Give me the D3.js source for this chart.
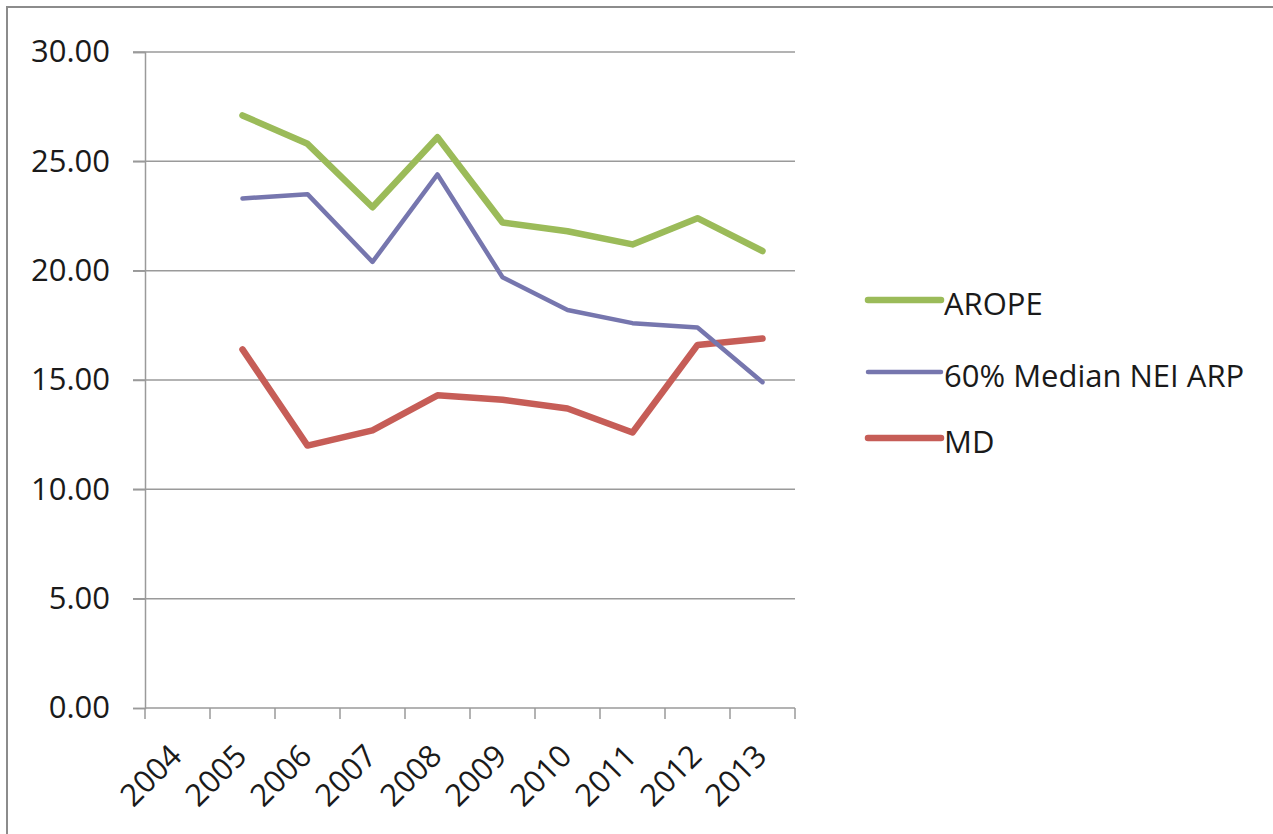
<!DOCTYPE html>
<html>
<head>
<meta charset="utf-8">
<script src="https://cdn.jsdelivr.net/npm/d3@7"></script>
<style>
  html, body { margin: 0; padding: 0; background: #fff; }
  svg { display: block; }
  text { font-family: "Open Sans", sans-serif; fill: #1a1a1a; }
</style>
</head>
<body>
<div id="chart"></div>
<script>
// Years on the category axis (2004 has no observations)
const years = ["2004", "2005", "2006", "2007", "2008", "2009", "2010", "2011", "2012", "2013"];
const dataYears = ["2005", "2006", "2007", "2008", "2009", "2010", "2011", "2012", "2013"];

// Indicator values, one per data year
const arope = [27.1, 25.8, 22.9, 26.1, 22.2, 21.8, 21.2, 22.4, 20.9];
const medianArp = [23.3, 23.5, 20.4, 24.4, 19.7, 18.2, 17.6, 17.4, 14.9];
const md = [16.4, 12.0, 12.7, 14.3, 14.1, 13.7, 12.6, 16.6, 16.9];

const seriesNames = ["AROPE", "60% Median NEI ARP", "MD"];
const yTicks = [0, 5, 10, 15, 20, 25, 30];

const W = 1273, H = 834;
const plotLeft = 145, plotRight = 795, plotTop = 52, plotBottom = 708;
const fontSize = "31px";

const svg = d3.select("#chart").append("svg")
  .attr("width", W).attr("height", H);

// outer frame
svg.append("rect")
  .attr("x", 7).attr("y", 7)
  .attr("width", W + 20).attr("height", H + 20)
  .attr("fill", "none").attr("stroke", "#8c8c8c").attr("stroke-width", 2);

const x = d3.scaleBand().domain(years).range([plotLeft, plotRight]);
const y = d3.scaleLinear().domain([0, 30]).range([plotBottom, plotTop]);

// horizontal gridlines
svg.append("g")
  .selectAll("line")
  .data(yTicks.filter(d => d > 0))
  .join("line")
  .attr("x1", plotLeft - 12).attr("x2", plotRight)
  .attr("y1", d => y(d)).attr("y2", d => y(d))
  .attr("stroke", "#9a9a9a").attr("stroke-width", 1.5);

// y axis
const yAxis = d3.axisLeft(y).tickValues(yTicks).tickSize(12).tickPadding(23)
  .tickFormat(d3.format(".2f"));
const gy = svg.append("g").attr("transform", `translate(${plotLeft},0)`).call(yAxis);
gy.select(".domain").attr("stroke", "#9a9a9a").attr("stroke-width", 1.5);
gy.selectAll(".tick line").attr("stroke", "#9a9a9a").attr("stroke-width", 1.5);
gy.selectAll(".tick text")
  .style("font-family", '"Open Sans", sans-serif')
  .style("font-size", fontSize).attr("fill", "#1a1a1a");

// x axis: ticks at band boundaries
const bounds = years.map(d => x(d)).concat([plotRight]);
svg.append("line")
  .attr("x1", plotLeft).attr("x2", plotRight)
  .attr("y1", plotBottom).attr("y2", plotBottom)
  .attr("stroke", "#9a9a9a").attr("stroke-width", 1.5);
svg.append("g").selectAll("line")
  .data(bounds)
  .join("line")
  .attr("x1", d => d).attr("x2", d => d)
  .attr("y1", plotBottom).attr("y2", plotBottom + 11)
  .attr("stroke", "#9a9a9a").attr("stroke-width", 1.5);

svg.append("g").selectAll("text")
  .data(years)
  .join("text")
  .attr("transform", d => `translate(${x(d) + x.bandwidth() / 2 + 6},${plotBottom + 50}) rotate(-45)`)
  .attr("text-anchor", "end")
  .style("font-size", fontSize)
  .text(d => d);

// lines
const colors = ["#9bbb59", "#7676ae", "#c65d57"];
const widths = [6.5, 4.5, 6.5];
const allSeries = [arope, medianArp, md];

const line = d3.line()
  .x((d, i) => x(dataYears[i]) + x.bandwidth() / 2)
  .y(d => y(d));

// draw order: MD, ARP, AROPE from back to front
[2, 1, 0].forEach(k => {
  svg.append("path")
    .datum(allSeries[k])
    .attr("d", line)
    .attr("fill", "none")
    .attr("stroke", colors[k])
    .attr("stroke-width", widths[k])
    .attr("stroke-linejoin", "round")
    .attr("stroke-linecap", "round");
});

// legend
const legendY = [300, 372, 438];
const lg = svg.append("g");
seriesNames.forEach((name, i) => {
  lg.append("line")
    .attr("x1", 868).attr("x2", 941)
    .attr("y1", legendY[i]).attr("y2", legendY[i])
    .attr("stroke", colors[i])
    .attr("stroke-width", widths[i])
    .attr("stroke-linecap", "round");
  lg.append("text")
    .attr("x", 944).attr("y", legendY[i] + 15)
    .style("font-size", fontSize)
    .text(name);
});
</script>
</body>
</html>
